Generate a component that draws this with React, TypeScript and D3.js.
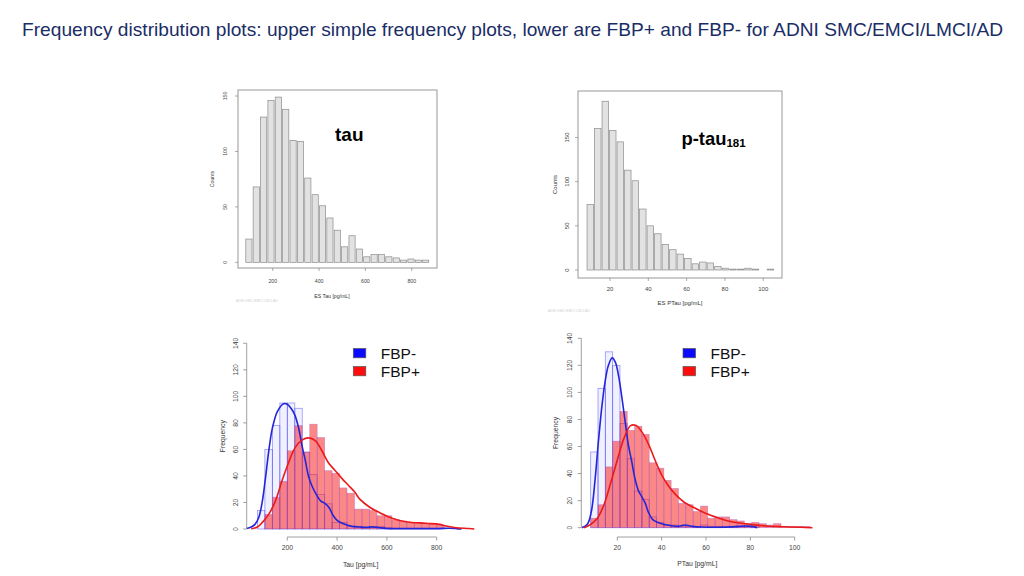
import React from "react";
import * as d3 from "d3";

// ---------------- data ----------------
const titleText =
  "Frequency distribution plots: upper simple frequency plots, lower are FBP+ and FBP- for ADNI SMC/EMCI/LMCI/AD";

// top-left: ES Tau counts (barplot)
const tauTopCounts = [21, 68, 131, 146, 149, 138, 110, 109, 76, 61, 51, 40, 29, 14, 24, 12, 5, 7, 7, 5, 4, 2, 3, 2, 2];
const tauTopFirstCenter = 97;
const tauTopStep = 31.8;
const tauTopXTicks = [200, 400, 600, 800];
const tauTopYTicks = [0, 50, 100, 150];

// top-right: ES PTau counts (barplot)
const ptauTopCounts = [74, 160, 191, 158, 145, 113, 101, 69, 50, 41, 29, 23, 18, 13, 7, 9, 8, 4, 2, 1, 1, 2, 1, 0, 1];
const ptauTopFirstCenter = 9.7;
const ptauTopStep = 3.92;
const ptauTopXTicks = [20, 40, 60, 80, 100];
const ptauTopYTicks = [0, 50, 100, 150];

// bottom-left: Tau histograms by FBP status
const tauBinStart = 80;
const tauBinWidth = 30;
const tauFbpNeg = [14, 60, 78, 95, 95, 91, 58, 41, 26, 19, 5, 5, 2, 2, 1, 1, 2, 1, 0, 0, 0, 0, 0, 0, 0];
const tauFbpPos = [0, 11, 24, 36, 59, 78, 58, 79, 69, 44, 42, 31, 27, 15, 15, 14, 10, 10, 7, 6, 5, 5, 4, 4, 3];
const tauNegDensity: [number, number][] = [
  [37, 0.3], [55, 1.5], [70, 3.5], [85, 8.5], [99, 20], [112, 38], [125, 58], [140, 76], [160, 88.5],
  [185, 94.5], [200, 94], [215, 91], [230, 86], [245, 76.5], [260, 62], [272, 52], [285, 40], [300, 32],
  [318, 25.5], [335, 21], [350, 19.5], [368, 16], [385, 10], [400, 6.5], [425, 4], [460, 2], [490, 1.5],
  [515, 1.2], [545, 1.6], [570, 1], [600, 0.4], [700, 0.3], [800, 0.3], [850, 0.6], [880, 0.3], [900, 0],
];
const tauPosDensity: [number, number][] = [
  [55, 0.2], [80, 1.5], [100, 5], [125, 11], [152, 21], [179, 36.5], [205, 50], [232, 61.5], [259, 67],
  [285, 68.7], [312, 66.7], [339, 59], [365, 50], [390, 44.5], [420, 38], [445, 33], [470, 28], [491, 22.5],
  [531, 16.4], [571, 12.3], [624, 8], [677, 5.5], [757, 4.3], [811, 3.5], [837, 2.3], [877, 1], [931, 0.4], [951, 0],
];
const tauBottomXTicks = [200, 400, 600, 800];

// bottom-right: PTau histograms by FBP status
const ptauBinStart = 8;
const ptauBinWidth = 3.3;
const ptauFbpNeg = [56, 103, 130, 120, 77, 51, 27, 21, 8, 4, 2, 2, 1, 1, 1, 2, 1, 1, 0, 1, 1, 1, 1, 0, 0, 0, 0, 0, 0, 0];
const ptauFbpPos = [7, 17, 45, 64, 86, 72, 75, 69, 48, 44, 35, 29, 18, 17, 12, 16, 7, 8, 8, 6, 5, 3, 4, 3, 2, 3, 1, 1, 1, 1];
const ptauNegDensity: [number, number][] = [
  [4, 0], [6.5, 2.5], [8.3, 12], [10, 36], [11.5, 64], [13, 89], [14.5, 108], [16, 120], [17.7, 125.5],
  [19.2, 122], [20.6, 112], [22, 97], [23.5, 79], [25, 61], [26.5, 49], [28, 36], [29.5, 27.5], [31, 23],
  [32.5, 18.5], [34, 11.5], [36, 6], [39, 3.5], [43, 1.8], [47, 1], [50.5, 2], [54, 1], [58, 0.5], [65, 0.3],
  [72, 0.6], [78, 1.3], [81, 1], [83, 0],
];
const ptauPosDensity: [number, number][] = [
  [5, 0], [8, 2.5], [11, 7], [14, 17], [17, 33], [20, 50], [23, 66], [26, 75.5], [28.5, 75.5], [31, 71],
  [34, 62], [37, 50], [40, 39], [43, 31], [46, 25], [50, 19], [55, 14.5], [60, 10.5], [65, 7.5], [70, 5],
  [75, 3.5], [80, 2.5], [87, 1.3], [95, 0.7], [103, 0.3], [108, 0],
];
const ptauBottomXTicks = [20, 40, 60, 80, 100];
const freqYTicks = [0, 20, 40, 60, 80, 100, 120, 140];
const legendLabels = ["FBP-", "FBP+"];

// ---------------- styles ----------------
const FONT = "'Liberation Sans', Arial, Helvetica, sans-serif";
const BLUE_LINE = "#2525d8";
const RED_LINE = "#ea1a1a";

// rotated label helper: centre of glyphs at (cx, cy)
function VText({ cx, cy, fs, children, fill = "#333" }: any) {
  return (
    <text
      transform={`translate(${cx + fs * 0.36},${cy}) rotate(-90)`}
      textAnchor="middle"
      fontSize={fs}
      fontFamily={FONT}
      fill={fill}
    >
      {children}
    </text>
  );
}

function TopPanel(props: any) {
  const { box, xDomain, yDomain, counts, firstCenter, step, barFrac, xTicks, yTicks, fs, xLabel, xLabelX,
    yTickX, xTickY, xLabelY, countsX } = props;
  const x = d3.scaleLinear().domain(xDomain).range([box.x0, box.x1]);
  const y = d3.scaleLinear().domain(yDomain).range([box.y1, box.y0]);
  const half = (step * barFrac) / 2;
  return (
    <g>
      <rect x={box.x0} y={box.y0} width={box.x1 - box.x0} height={box.y1 - box.y0} fill="#fff" stroke="#a9a9a9" strokeWidth={1.2} />
      {counts.map((v: number, i: number) => {
        const c = firstCenter + i * step;
        return (
          <rect key={i} x={x(c - half)} y={y(v)} width={x(c + half) - x(c - half)} height={y(0) - y(v)}
            fill="#e2e2e2" stroke="#8c8c8c" strokeWidth={0.7} />
        );
      })}
      {yTicks.map((t: number) => (
        <g key={"y" + t}>
          <line x1={box.x0} x2={box.x0 - 3} y1={y(t)} y2={y(t)} stroke="#777" strokeWidth={0.6} />
          <VText cx={yTickX} cy={y(t)} fs={fs} fill="#444">{t}</VText>
        </g>
      ))}
      {xTicks.map((t: number) => (
        <g key={"x" + t}>
          <line x1={x(t)} x2={x(t)} y1={box.y1} y2={box.y1 + 3} stroke="#777" strokeWidth={0.6} />
          <text x={x(t)} y={xTickY} textAnchor="middle" fontSize={fs} fontFamily={FONT} fill="#444">{t}</text>
        </g>
      ))}
      <text x={xLabelX} y={xLabelY} textAnchor="middle" fontSize={fs} fontFamily={FONT} fill="#333">{xLabel}</text>
      <VText cx={countsX} cy={(box.y0 + box.y1) / 2} fs={fs} fill="#333">Counts</VText>
    </g>
  );
}

function BottomPanel(props: any) {
  const { xTickVals, xTickPx, yPx, binStart, binWidth, neg, pos, negDens, posDens, xTicks, axisX, axisY,
    yTickX, yLabX, xTickY, xLabel, xLabelX, xLabelY, legendX, fs } = props;
  const x = d3.scaleLinear().domain(xTickVals).range(xTickPx);
  const y = d3.scaleLinear().domain([0, 140]).range(yPx);
  const line = d3
    .line<[number, number]>()
    .x((d) => x(d[0]))
    .y((d) => y(d[1]))
    .curve(d3.curveCatmullRom.alpha(0.5));
  return (
    <g>
      {neg.map((v: number, i: number) =>
        v > 0 ? (
          <rect key={"n" + i} x={x(binStart + i * binWidth)} y={y(v)}
            width={x(binStart + (i + 1) * binWidth) - x(binStart + i * binWidth)} height={y(0) - y(v)}
            fill="rgba(40,40,255,0.07)" stroke="rgba(70,70,250,0.55)" strokeWidth={0.8} />
        ) : null
      )}
      {pos.map((v: number, i: number) =>
        v > 0 ? (
          <rect key={"p" + i} x={x(binStart + i * binWidth)} y={y(v)}
            width={x(binStart + (i + 1) * binWidth) - x(binStart + i * binWidth)} height={y(0) - y(v)}
            fill="rgba(250,25,25,0.52)" stroke="rgba(140,80,210,0.4)" strokeWidth={0.7} />
        ) : null
      )}
      <path d={line(negDens) || ""} fill="none" stroke={BLUE_LINE} strokeWidth={1.6} />
      <path d={line(posDens) || ""} fill="none" stroke={RED_LINE} strokeWidth={1.6} />
      {/* y axis */}
      <line x1={axisX} x2={axisX} y1={y(0)} y2={y(140)} stroke="#888" strokeWidth={0.8} />
      {freqYTicks.map((t) => (
        <g key={"yt" + t}>
          <line x1={axisX} x2={axisX - 3.5} y1={y(t)} y2={y(t)} stroke="#888" strokeWidth={0.8} />
          <VText cx={yTickX} cy={y(t)} fs={fs} fill="#444">{t}</VText>
        </g>
      ))}
      <VText cx={yLabX} cy={(y(0) + y(140)) / 2} fs={fs} fill="#333">Frequency</VText>
      {/* x axis */}
      <line x1={x(xTicks[0])} x2={x(xTicks[xTicks.length - 1])} y1={axisY} y2={axisY} stroke="#888" strokeWidth={0.8} />
      {xTicks.map((t: number) => (
        <g key={"xt" + t}>
          <line x1={x(t)} x2={x(t)} y1={axisY} y2={axisY + 3.5} stroke="#888" strokeWidth={0.8} />
          <text x={x(t)} y={xTickY} textAnchor="middle" fontSize={fs} fontFamily={FONT} fill="#444">{t}</text>
        </g>
      ))}
      <text x={xLabelX} y={xLabelY} textAnchor="middle" fontSize={fs} fontFamily={FONT} fill="#333">{xLabel}</text>
      {/* legend */}
      {legendLabels.map((lab, i) => (
        <g key={lab}>
          <rect x={legendX} y={348.5 + i * 18} width={12.5} height={9.3}
            fill={i === 0 ? "#0a0aff" : "#ff0d0d"} stroke="#555" strokeWidth={0.7} />
          <text x={legendX + 27.5} y={359 + i * 17.5} fontSize={15.5} fontFamily={FONT} fill="#111">{lab}</text>
        </g>
      ))}
    </g>
  );
}

export default function App() {
  return (
    <svg width={1024} height={576} viewBox="0 0 1024 576"
      style={{ position: "absolute", left: 0, top: 0, background: "#fff" }}>
      <rect x={0} y={0} width={1024} height={576} fill="#fff" />
      <text x={22} y={36} fontSize={19} fontFamily={FONT} fill="#1a2d66" textLength={981} lengthAdjust="spacingAndGlyphs">
        {titleText}
      </text>

      <TopPanel
        box={{ x0: 238, x1: 437, y0: 90, y1: 268 }}
        xDomain={[50, 909]}
        yDomain={[-5.1, 155.4]}
        counts={tauTopCounts}
        firstCenter={tauTopFirstCenter}
        step={tauTopStep}
        barFrac={0.84}
        xTicks={tauTopXTicks}
        yTicks={tauTopYTicks}
        fs={5.2}
        xLabel="ES Tau [pg/mL]"
        xLabelX={332}
        yTickX={225.5}
        xTickY={282.5}
        xLabelY={297.5}
        countsX={212.5}
      />
      <text x={335} y={141} fontSize={19} fontWeight="bold" fontFamily={FONT} fill="#000">tau</text>
      <text x={236} y={302} fontSize={3.5} fontFamily={FONT} fill="#d0d0d0">ADNI SMC EMCI LMCI AD</text>

      <TopPanel
        box={{ x0: 578, x1: 782, y0: 91, y1: 278 }}
        xDomain={[3.3, 109.8]}
        yDomain={[-9.06, 202.6]}
        counts={ptauTopCounts}
        firstCenter={ptauTopFirstCenter}
        step={ptauTopStep}
        barFrac={0.86}
        xTicks={ptauTopXTicks}
        yTicks={ptauTopYTicks}
        fs={6}
        xLabel="ES PTau [pg/mL]"
        xLabelX={680}
        yTickX={567}
        xTickY={290.5}
        xLabelY={304.5}
        countsX={555}
      />
      <text x={681.5} y={145} fontSize={18.4} fontWeight="bold" fontFamily={FONT} fill="#000">
        p-tau<tspan fontSize={11.5} dy={1.5}>181</tspan>
      </text>
      <text x={548} y={312} fontSize={3.5} fontFamily={FONT} fill="#d0d0d0">ADNI SMC EMCI LMCI AD</text>

      <BottomPanel
        xTickVals={[200, 800]}
        xTickPx={[287.3, 436.7]}
        yPx={[529, 343.3]}
        binStart={tauBinStart}
        binWidth={tauBinWidth}
        neg={tauFbpNeg}
        pos={tauFbpPos}
        negDens={tauNegDensity}
        posDens={tauPosDensity}
        xTicks={tauBottomXTicks}
        axisX={246.7}
        axisY={537}
        yTickX={235.7}
        yLabX={222.3}
        xTickY={549.5}
        xLabel="Tau [pg/mL]"
        xLabelX={360.7}
        xLabelY={567}
        legendX={353.3}
        fs={6.8}
      />

      <BottomPanel
        xTickVals={[20, 100]}
        xTickPx={[617.3, 794.7]}
        yPx={[527.7, 338.3]}
        binStart={ptauBinStart}
        binWidth={ptauBinWidth}
        neg={ptauFbpNeg}
        pos={ptauFbpPos}
        negDens={ptauNegDensity}
        posDens={ptauPosDensity}
        xTicks={ptauBottomXTicks}
        axisX={581.3}
        axisY={537}
        yTickX={569.7}
        yLabX={555.3}
        xTickY={550}
        xLabel="PTau [pg/mL]"
        xLabelX={697.3}
        xLabelY={566}
        legendX={683}
        fs={6.8}
      />
    </svg>
  );
}
